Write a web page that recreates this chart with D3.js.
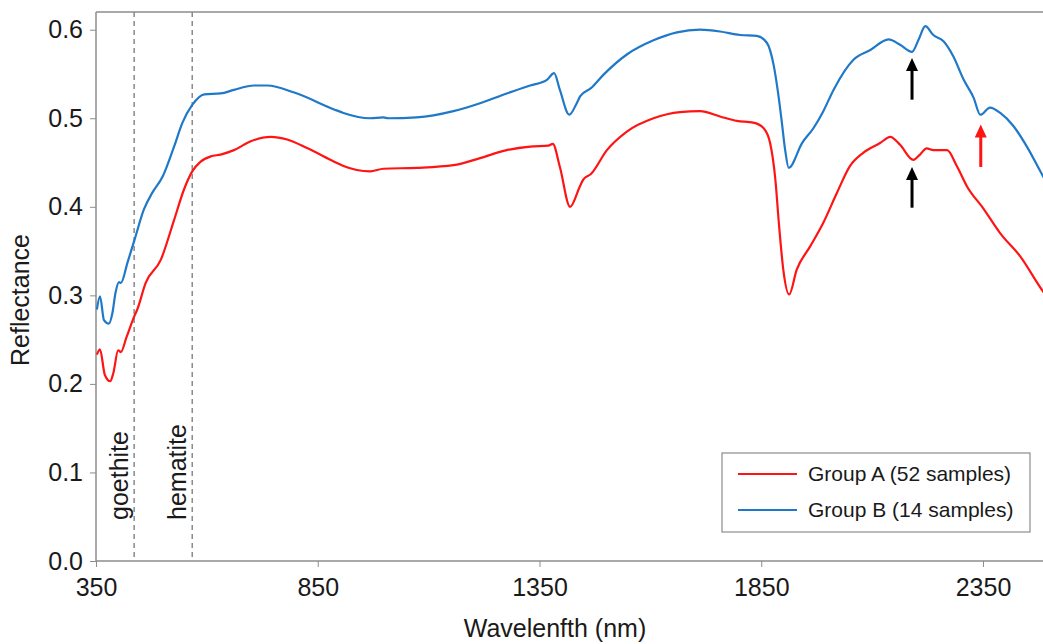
<!DOCTYPE html>
<html>
<head>
<meta charset="utf-8">
<script src="https://cdn.jsdelivr.net/npm/d3@7"></script>
<style>
  html, body { margin: 0; padding: 0; background: #fff; }
  svg { display: block; font-family: "Liberation Sans", Arial, sans-serif; }
</style>
</head>
<body>
<svg id="chart" width="1043" height="644"></svg>
<script>
// Mean reflectance spectra (wavelength in nm, reflectance 0–1)
const groupAWavelength = [352, 359, 370, 382, 389, 400, 406, 419, 436, 443, 462, 496, 526, 548, 567, 586, 609, 631, 661, 699, 744, 781, 827, 887, 908, 968, 998, 1073, 1156, 1216, 1276, 1329, 1370, 1380, 1396, 1419, 1441, 1449, 1466, 1502, 1547, 1607, 1667, 1712, 1757, 1795, 1832, 1855, 1870, 1882, 1890, 1900, 1913, 1930, 1960, 1990, 2020, 2050, 2080, 2118, 2141, 2163, 2193, 2208, 2223, 2238, 2269, 2291, 2314, 2351, 2389, 2434, 2486, 2500];
const groupAReflectance = [0.233, 0.239, 0.210, 0.203, 0.212, 0.238, 0.236, 0.253, 0.276, 0.284, 0.314, 0.340, 0.385, 0.419, 0.440, 0.451, 0.457, 0.459, 0.464, 0.474, 0.479, 0.476, 0.466, 0.451, 0.446, 0.440, 0.443, 0.444, 0.447, 0.455, 0.464, 0.468, 0.469, 0.471, 0.445, 0.400, 0.423, 0.431, 0.437, 0.464, 0.485, 0.500, 0.507, 0.508, 0.502, 0.497, 0.495, 0.489, 0.472, 0.430, 0.380, 0.328, 0.301, 0.329, 0.355, 0.382, 0.415, 0.446, 0.461, 0.472, 0.479, 0.470, 0.453, 0.459, 0.466, 0.464, 0.464, 0.446, 0.423, 0.398, 0.370, 0.344, 0.304, 0.295];

const groupBWavelength = [352, 359, 368, 379, 387, 394, 402, 406, 421, 437, 458, 477, 500, 526, 545, 567, 594, 631, 661, 706, 736, 797, 887, 908, 968, 998, 1009, 1073, 1156, 1216, 1276, 1329, 1366, 1383, 1396, 1417, 1434, 1442, 1466, 1494, 1547, 1607, 1660, 1712, 1757, 1802, 1840, 1863, 1878, 1889, 1897, 1904, 1912, 1942, 1968, 1990, 2013, 2058, 2096, 2137, 2163, 2190, 2205, 2220, 2238, 2261, 2283, 2306, 2329, 2344, 2366, 2389, 2419, 2449, 2486, 2500];
const groupBReflectance = [0.284, 0.299, 0.272, 0.268, 0.280, 0.303, 0.315, 0.314, 0.337, 0.363, 0.397, 0.416, 0.434, 0.468, 0.495, 0.515, 0.527, 0.528, 0.532, 0.537, 0.537, 0.529, 0.510, 0.506, 0.500, 0.501, 0.500, 0.501, 0.508, 0.517, 0.528, 0.537, 0.543, 0.551, 0.532, 0.504, 0.517, 0.525, 0.534, 0.549, 0.572, 0.588, 0.597, 0.600, 0.598, 0.594, 0.593, 0.585, 0.560, 0.525, 0.493, 0.464, 0.444, 0.472, 0.489, 0.508, 0.532, 0.566, 0.577, 0.589, 0.583, 0.575, 0.589, 0.604, 0.594, 0.587, 0.570, 0.544, 0.523, 0.504, 0.512, 0.506, 0.491, 0.468, 0.434, 0.422];

const seriesNames = ["Group A (52 samples)", "Group B (14 samples)"];
const seriesColors = ["#ff1414", "#1f78c8"];

const xTicks = [350, 850, 1350, 1850, 2350];
const yTicks = [0.0, 0.1, 0.2, 0.3, 0.4, 0.5, 0.6];

// Iron-oxide absorption positions
const mineralWavelength = [436, 567];
const mineralLabel = ["goethite", "hematite"];

// Absorption-feature arrows: wavelength, tail and tip reflectance
const arrowWavelength = [2190, 2190, 2345];
const arrowTail = [0.521, 0.399, 0.445];
const arrowTip = [0.568, 0.445, 0.493];
const arrowColor = ["#000000", "#000000", "#ff1414"];

const svg = d3.select("#chart");
const plotLeft = 96, plotTop = 12, plotBottom = 561, plotRight = 1049.5;

const x = d3.scaleLinear().domain([350, 2500]).range([plotLeft, plotRight]);
const y = d3.scaleLinear().domain([0, 0.62]).range([plotBottom, plotTop]);

const axisColor = "#8c8c8c";
const textColor = "#1a1a1a";

// frame top line
svg.append("line")
  .attr("x1", plotLeft).attr("x2", plotRight)
  .attr("y1", plotTop).attr("y2", plotTop)
  .attr("stroke", axisColor).attr("stroke-width", 1.5);

// mineral reference lines and labels
mineralWavelength.forEach((w, i) => {
  svg.append("line")
    .attr("x1", x(w)).attr("x2", x(w))
    .attr("y1", plotTop).attr("y2", plotBottom)
    .attr("stroke", "#8a8a8a").attr("stroke-width", 1.5)
    .attr("stroke-dasharray", "5,4");
  svg.append("text")
    .attr("transform", `translate(${x(w) - 6},520) rotate(-90)`)
    .attr("font-size", 25).attr("fill", textColor)
    .text(mineralLabel[i]);
});

// axes
const yAxis = svg.append("g")
  .attr("transform", `translate(${plotLeft},0)`)
  .call(d3.axisLeft(y).tickValues(yTicks).tickFormat(d3.format(".1f")).tickSize(6).tickPadding(7));
const xAxis = svg.append("g")
  .attr("transform", `translate(0,${plotBottom})`)
  .call(d3.axisBottom(x).tickValues(xTicks).tickFormat(d3.format("d")).tickSize(6).tickPadding(11));

[yAxis, xAxis].forEach(g => {
  g.select(".domain").attr("stroke", axisColor).attr("stroke-width", 1.5);
  g.selectAll(".tick line").attr("stroke", axisColor).attr("stroke-width", 1);
  g.selectAll(".tick text")
    .attr("font-size", 25).attr("fill", textColor)
    .attr("font-family", "Liberation Sans, Arial, sans-serif");
});
yAxis.select(".domain").attr("d", `M0,${plotTop}V${plotBottom}`);
xAxis.select(".domain").attr("d", `M${plotLeft},0H${plotRight}`);

// axis titles
svg.append("text")
  .attr("x", 555).attr("y", 637)
  .attr("text-anchor", "middle")
  .attr("font-size", 25).attr("fill", textColor)
  .text("Wavelenfth (nm)");
svg.append("text")
  .attr("transform", "translate(29,300) rotate(-90)")
  .attr("text-anchor", "middle")
  .attr("font-size", 25).attr("fill", textColor)
  .text("Reflectance");

// spectra
const line = d3.line()
  .x(d => x(d[0])).y(d => y(d[1]))
  .curve(d3.curveMonotoneX);

const spectra = [
  d3.zip(groupAWavelength, groupAReflectance),
  d3.zip(groupBWavelength, groupBReflectance)
];
spectra.forEach((pts, i) => {
  svg.append("path")
    .datum(pts)
    .attr("d", line)
    .attr("fill", "none")
    .attr("stroke", seriesColors[i])
    .attr("stroke-width", 2.2)
    .attr("stroke-linejoin", "round");
});

// arrows
arrowWavelength.forEach((w, i) => {
  const ax = x(w), y0 = y(arrowTail[i]), y1 = y(arrowTip[i]);
  const head = 13, half = 6;
  svg.append("line")
    .attr("x1", ax).attr("x2", ax)
    .attr("y1", y0).attr("y2", y1 + head - 1)
    .attr("stroke", arrowColor[i]).attr("stroke-width", 3);
  svg.append("path")
    .attr("d", `M${ax},${y1}L${ax + half},${y1 + head}L${ax - half},${y1 + head}Z`)
    .attr("fill", arrowColor[i]);
});

// legend
const legend = svg.append("g");
legend.append("rect")
  .attr("x", 722).attr("y", 453).attr("width", 308).attr("height", 79)
  .attr("fill", "#fff").attr("stroke", "#8c8c8c").attr("stroke-width", 1.2);
seriesNames.forEach((name, i) => {
  const ly = 474 + i * 36;
  legend.append("line")
    .attr("x1", 738).attr("x2", 797).attr("y1", ly).attr("y2", ly)
    .attr("stroke", seriesColors[i]).attr("stroke-width", 2);
  legend.append("text")
    .attr("x", 808).attr("y", ly).attr("dy", "0.35em")
    .attr("font-size", 21).attr("fill", textColor)
    .text(name);
});
</script>
</body>
</html>
